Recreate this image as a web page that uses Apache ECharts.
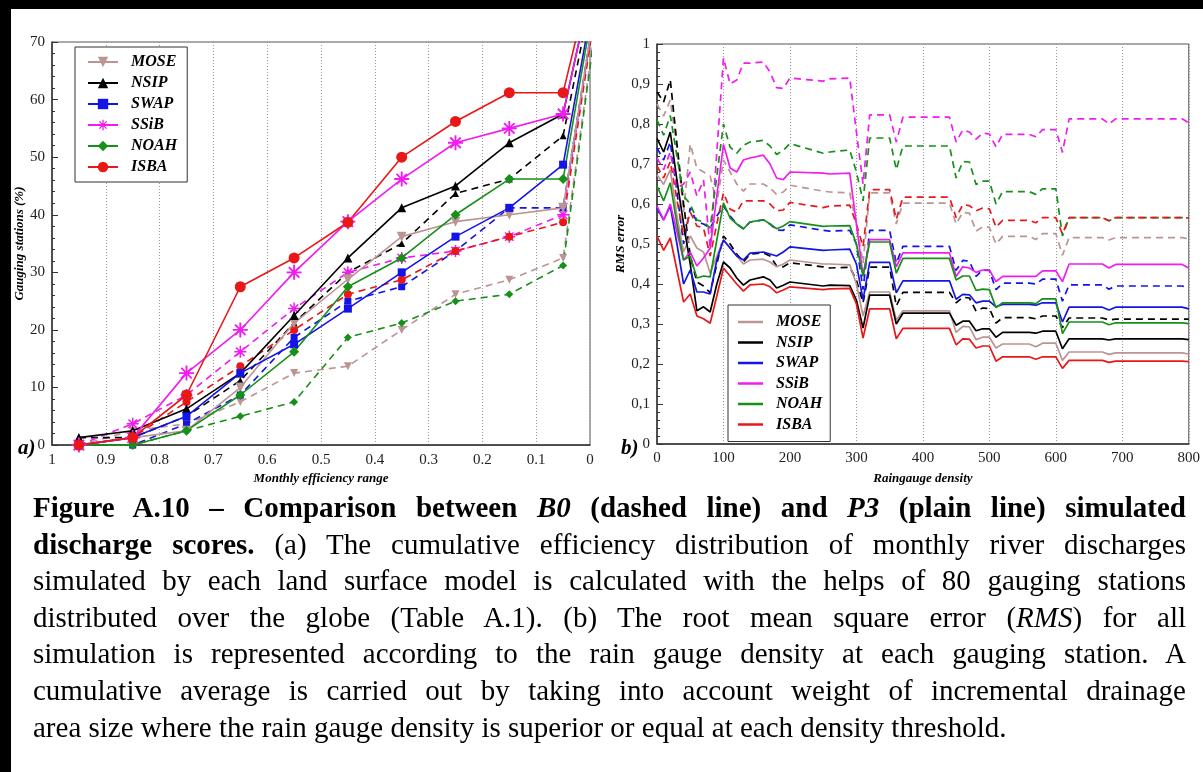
<!DOCTYPE html>
<html>
<head>
<meta charset="utf-8">
<script src="https://cdn.jsdelivr.net/npm/echarts@6/dist/echarts.min.js"></script>
<style>
  html, body { margin: 0; padding: 0; background: #fff; }
  body { width: 1203px; height: 772px; position: relative; overflow: hidden; }
  .frame { position: absolute; left: 0; top: 0; width: 1203px; height: 772px; box-sizing: border-box;
           border-top: 9px solid #000; border-left: 11px solid #000; pointer-events: none; }
  #chart { position: absolute; left: 0; top: 0; width: 1203px; height: 490px; }
  .caption { position: absolute; left: 33px; top: 489px; width: 1153px;
             font-family: 'Liberation Serif', 'Times New Roman', serif; font-size: 29px;
             line-height: 36.6px; color: #000; }
  .caption div { text-align: justify; text-align-last: justify; }
  .caption div.last { text-align: left; text-align-last: left; }
</style>
</head>
<body>
<div id="chart"></div>
<div class="caption">
  <div><b>Figure A.10 – Comparison between <i>B0</i> (dashed line) and <i>P3</i> (plain line) simulated</b></div>
  <div><b>discharge scores.</b> (a) The cumulative efficiency distribution of monthly river discharges</div>
  <div>simulated by each land surface model is calculated with the helps of 80 gauging stations</div>
  <div>distributed over the globe (Table A.1). (b) The root mean square error (<i>RMS</i>) for all</div>
  <div>simulation is represented according to the rain gauge density at each gauging station. A</div>
  <div>cumulative average is carried out by taking into account weight of incremental drainage</div>
  <div class="last">area size where the rain gauge density is superior or equal at each density threshold.</div>
</div>
<div class="frame"></div>

<script>
// (a) cumulative distribution, % of gauging stations per efficiency class
const effX = [0.95, 0.85, 0.75, 0.65, 0.55, 0.45, 0.35, 0.25, 0.15, 0.05, -0.05]

const moseP3 = [0, 1.3, 2.5, 10, 21.2, 28.8, 36.2, 38.8, 40, 41.2, 100]
const nsipP3 = [1.3, 2.5, 6.3, 12.5, 22.5, 32.5, 41.2, 45, 52.5, 57.5, 100]
const swapP3 = [0, 1.3, 5, 12.5, 17.5, 23.7, 30, 36.2, 41.2, 48.7, 100]
const ssibP3 = [0, 1.3, 12.5, 20, 30, 38.8, 46.2, 52.5, 55, 57.5, 100]
const noahP3 = [0, 0, 2.5, 8.7, 16.2, 27.5, 32.5, 40, 46.2, 46.2, 100]
const isbaP3 = [0, 1.3, 8.7, 27.5, 32.5, 38.7, 50, 56.2, 61.2, 61.2, 100]

const moseB0 = [0, 2.5, 3.7, 7.5, 12.5, 13.7, 20, 26.2, 28.7, 32.5, 100]
const nsipB0 = [1.3, 1.3, 5, 11.2, 21.2, 30, 35, 43.7, 46.2, 53.7, 100]
const swapB0 = [0, 0, 3.7, 8.7, 18.7, 25, 27.5, 33.7, 41.2, 41.2, 100]
const ssibB0 = [0, 3.7, 8.7, 16.2, 23.7, 30, 32.5, 33.7, 36.2, 40, 100]
const noahB0 = [0, 0, 2.5, 5, 7.5, 18.7, 21.2, 25, 26.2, 31.2, 100]
const isbaB0 = [0, 1.3, 7.5, 13.7, 20, 26.2, 28.7, 33.7, 36.2, 38.7, 100]

// (b) RMS error against rain gauge density
const density = [0, 10, 20, 30, 40, 50, 60, 70, 80, 90, 100, 110, 120, 130, 140,
  160, 170, 180, 190, 200,
  250, 260, 290, 300, 310, 320, 350, 360, 370,
  440, 450, 460, 470, 480, 490, 500, 510, 520,
  560, 570, 580, 600, 610, 620,
  670, 680, 690, 790, 800]

const rmsMoseB0 = [.85, .82, .86, .74, .58, .75, .69, .68, .67, .60, .71, .68, .65, .632, .65,
  .65, .64, .624, .63, .647,
  .632, .63, .628, .55, .452, .628, .628, .55, .602,
  .602, .55, .579, .577, .532, .543, .542, .50, .519,
  .519, .511, .526, .526, .472, .516,
  .516, .51, .516, .516, .513]
const rmsNsipB0 = [.88, .855, .91, .75, .60, .47, .405, .395, .378, .45, .52, .50, .475, .455, .475,
  .478, .47, .445, .443, .453,
  .443, .44, .442, .41, .353, .442, .442, .345, .379,
  .379, .353, .367, .365, .332, .34, .339, .302, .316,
  .316, .313, .32, .32, .291, .315,
  .315, .31, .312, .312, .312]
const rmsSwapB0 = [.74, .71, .755, .63, .50, .59, .555, .55, .54, .57, .595, .57, .55, .538, .555,
  .56, .55, .535, .534, .548,
  .534, .532, .534, .50, .386, .534, .534, .452, .494,
  .494, .434, .459, .457, .419, .435, .434, .386, .402,
  .402, .40, .412, .412, .357, .398,
  .398, .387, .395, .395, .392]
const rmsSsibB0 = [.715, .686, .73, .64, .65, .68, .62, .66, .49, .73, .965, .90, .91, .952, .952,
  .955, .93, .891, .889, .915,
  .907, .913, .915, .78, .65, .823, .823, .755, .817,
  .817, .755, .785, .78, .762, .777, .775, .743, .774,
  .774, .768, .786, .786, .729, .813,
  .813, .80, .813, .813, .803]
const rmsNoahB0 = [.81, .772, .821, .72, .62, .60, .56, .555, .54, .67, .80, .742, .727, .747, .755,
  .759, .745, .724, .734, .751,
  .727, .73, .735, .68, .608, .765, .765, .686, .745,
  .745, .665, .706, .705, .649, .657, .657, .60, .631,
  .631, .624, .638, .638, .52, .566,
  .566, .558, .566, .566, .565]
const rmsIsbaB0 = [.695, .665, .706, .61, .52, .58, .545, .54, .47, .55, .628, .587, .58, .608, .608,
  .608, .60, .583, .585, .604,
  .591, .595, .597, .55, .493, .636, .636, .562, .617,
  .617, .566, .598, .596, .583, .59, .588, .542, .559,
  .559, .553, .566, .566, .525, .566,
  .566, .558, .566, .566, .565]

const rmsMoseP3 = [.673, .649, .686, .57, .48, .52, .49, .48, .427, .47, .51, .49, .47, .45, .46,
  .462, .455, .443, .45, .46,
  .45, .45, .448, .40, .32, .38, .38, .31, .333,
  .333, .279, .294, .293, .261, .267, .267, .24, .25,
  .25, .243, .252, .252, .209, .23,
  .23, .224, .228, .228, .225]
const rmsNsipP3 = [.764, .73, .78, .66, .55, .45, .333, .343, .33, .40, .455, .44, .415, .397, .41,
  .418, .41, .39, .397, .405,
  .395, .397, .396, .36, .29, .372, .372, .30, .327,
  .327, .297, .307, .307, .283, .288, .288, .267, .279,
  .279, .277, .282, .282, .238, .263,
  .263, .26, .263, .263, .261]
const rmsSwapP3 = [.59, .56, .595, .50, .40, .435, .38, .38, .375, .46, .51, .49, .47, .46, .477,
  .48, .475, .47, .48, .493,
  .484, .485, .487, .45, .361, .454, .454, .378, .408,
  .408, .362, .374, .373, .353, .357, .357, .343, .349,
  .349, .347, .353, .353, .305, .342,
  .342, .335, .342, .342, .338]
const rmsSsibP3 = [.595, .56, .60, .53, .46, .48, .445, .465, .49, .62, .749, .69, .68, .71, .715,
  .722, .70, .665, .661, .68,
  .677, .675, .677, .55, .42, .511, .511, .443, .478,
  .478, .419, .443, .44, .429, .435, .435, .406, .419,
  .419, .419, .433, .433, .406, .45,
  .45, .44, .449, .449, .44]
const rmsNoahP3 = [.645, .608, .653, .55, .46, .47, .415, .42, .418, .51, .603, .565, .55, .538, .555,
  .561, .55, .538, .545, .556,
  .544, .545, .546, .50, .419, .505, .505, .427, .464,
  .464, .41, .42, .42, .384, .387, .386, .341, .353,
  .353, .351, .363, .363, .276, .305,
  .305, .298, .303, .303, .301]
const rmsIsbaP3 = [.52, .484, .515, .435, .355, .375, .32, .313, .302, .37, .44, .42, .40, .382, .398,
  .40, .393, .378, .385, .393,
  .386, .388, .389, .35, .265, .338, .338, .263, .289,
  .289, .248, .263, .262, .24, .245, .245, .207, .218,
  .218, .212, .218, .218, .189, .209,
  .209, .204, .207, .207, .206]

const models = ['MOSE', 'NSIP', 'SWAP', 'SSiB', 'NOAH', 'ISBA']
const colors = ['#bc9494', '#000000', '#1414e6', '#f01cf0', '#16901a', '#e81818']

const asterisk = 'path://M8.75 0L11.25 0L11.25 20L8.75 20Z M0 8.75L20 8.75L20 11.25L0 11.25Z ' +
  'M2.12 3.88L3.88 2.12L17.88 16.12L16.12 17.88Z M3.88 17.88L2.12 16.12L16.12 2.12L17.88 3.88Z'
const symbols = ['triangle', 'triangle', 'rect', asterisk, 'diamond', 'circle']
const symbolSizes = [[10, 9, 8, 15, 10, 11], [8, 7, 7, 12, 8, 8]]

const serif = "'Liberation Serif', 'Times New Roman', serif"

const effP3 = [moseP3, nsipP3, swapP3, ssibP3, noahP3, isbaP3]
const effB0 = [moseB0, nsipB0, swapB0, ssibB0, noahB0, isbaB0]
const rmsP3 = [rmsMoseP3, rmsNsipP3, rmsSwapP3, rmsSsibP3, rmsNoahP3, rmsIsbaP3]
const rmsB0 = [rmsMoseB0, rmsNsipB0, rmsSwapB0, rmsSsibB0, rmsNoahB0, rmsIsbaB0]

let series = []
// a) dashed B0 first, plain P3 on top
models.forEach((m, i) => {
  series.push({
    name: m + ' (B0)', type: 'line', xAxisIndex: 0, yAxisIndex: 0,
    data: effX.map((x, k) => [x, effB0[i][k]]),
    symbol: symbols[i], symbolSize: symbolSizes[1][i], symbolRotate: i === 0 ? 180 : 0,
    lineStyle: { color: colors[i], width: 1.6, type: [7, 5] },
    itemStyle: { color: colors[i] }, z: 2
  })
})
models.forEach((m, i) => {
  series.push({
    name: m, type: 'line', xAxisIndex: 0, yAxisIndex: 0,
    data: effX.map((x, k) => [x, effP3[i][k]]),
    symbol: symbols[i], symbolSize: symbolSizes[0][i], symbolRotate: i === 0 ? 180 : 0,
    lineStyle: { color: colors[i], width: 1.6 },
    itemStyle: { color: colors[i] }, z: 3
  })
})
// b)
models.forEach((m, i) => {
  series.push({
    name: 'RMS ' + m + ' (B0)', type: 'line', xAxisIndex: 1, yAxisIndex: 1,
    data: density.map((x, k) => [x, rmsB0[i][k]]),
    symbol: 'none', lineStyle: { color: colors[i], width: 1.7, type: [7, 5] }, z: 2
  })
})
models.forEach((m, i) => {
  series.push({
    name: 'RMS ' + m, type: 'line', xAxisIndex: 1, yAxisIndex: 1,
    data: density.map((x, k) => [x, rmsP3[i][k]]),
    symbol: 'none', lineStyle: { color: colors[i], width: 1.7 },
    itemStyle: { color: colors[i] }, z: 3
  })
})

const axisLabel = { color: '#222', fontFamily: serif, fontSize: 15, margin: 7 }
const nameStyle = { color: '#000', fontFamily: serif, fontSize: 13, fontWeight: 'bold', fontStyle: 'italic' }
const legendText = { color: '#000', fontFamily: serif, fontSize: 16, fontWeight: 'bold', fontStyle: 'italic',
                     padding: [0, 0, 0, 8] }

const option = {
  animation: false,
  grid: [
    { left: 52, top: 42, width: 538, height: 408, show: true, borderColor: '#555', borderWidth: 1 },
    { left: 657, top: 44, width: 539, height: 406, show: true, borderColor: '#555', borderWidth: 1 }
  ],
  xAxis: [
    {
      gridIndex: 0, type: 'value', min: 0, max: 1, interval: 0.1, inverse: true,
      name: 'Monthly efficiency range', nameLocation: 'middle', nameGap: 18, nameTextStyle: nameStyle,
      axisLine: { onZero: false, lineStyle: { color: '#333', width: 1.5 } },
      axisTick: { show: false },
      axisLabel: axisLabel,
      splitLine: { show: true, lineStyle: { color: '#999', type: [1, 2] } }
    },
    {
      gridIndex: 1, type: 'value', min: 0, max: 800, interval: 100,
      name: 'Raingauge density', nameLocation: 'middle', nameGap: 28, nameTextStyle: nameStyle,
      axisLine: { onZero: false, lineStyle: { color: '#333', width: 1.5 } },
      axisTick: { show: false },
      axisLabel: axisLabel,
      splitLine: { show: true, lineStyle: { color: '#999', type: [1, 2] } }
    }
  ],
  yAxis: [
    {
      gridIndex: 0, type: 'value', min: 0, max: 70, interval: 10,
      name: 'Gauging stations (%)', nameLocation: 'middle', nameGap: 23, nameTextStyle: nameStyle,
      axisLine: { show: true, onZero: false, lineStyle: { color: '#333', width: 1.5 } },
      axisTick: { show: true, inside: true, length: 6, lineStyle: { color: '#333' } },
      minorTick: { show: true, splitNumber: 5, length: 3, lineStyle: { color: '#333' } },
      axisLabel: axisLabel,
      splitLine: { show: false }
    },
    {
      gridIndex: 1, type: 'value', min: 0, max: 1, interval: 0.1,
      name: 'RMS error', nameLocation: 'middle', nameGap: 22, nameTextStyle: nameStyle,
      axisLine: { show: true, onZero: false, lineStyle: { color: '#333', width: 1.5 } },
      axisTick: { show: true, inside: true, length: 6, lineStyle: { color: '#333' } },
      minorTick: { show: true, splitNumber: 5, length: 3, lineStyle: { color: '#333' } },
      axisLabel: Object.assign({}, axisLabel, { formatter: v => String(v).replace('.', ',') }),
      splitLine: { show: false }
    }
  ],
  legend: [
    {
      data: models, left: 75, top: 47, orient: 'vertical',
      itemWidth: 30, itemHeight: 13, itemGap: 5,
      padding: [7, 10, 7, 12], backgroundColor: '#fff', borderColor: '#333', borderWidth: 1,
      textStyle: legendText, selectedMode: false
    },
    {
      data: models.map(m => ({ name: 'RMS ' + m, icon: 'rect' })), left: 728, top: 305, orient: 'vertical',
      itemWidth: 25, itemHeight: 2.5, itemGap: 4.5,
      padding: [9, 8, 9, 10], backgroundColor: '#fff', borderColor: '#333', borderWidth: 1,
      textStyle: legendText, selectedMode: false,
      formatter: name => name.replace('RMS ', '')
    }
  ],
  graphic: [
    { type: 'text', left: 18, top: 438, style: { text: 'a)', font: "italic bold 21px 'Liberation Serif', serif", fill: '#000' } },
    { type: 'text', left: 621, top: 438, style: { text: 'b)', font: "italic bold 21px 'Liberation Serif', serif", fill: '#000' } }
  ],
  series: series
}

const chart = echarts.init(document.getElementById('chart'))
chart.setOption(option)
</script>
</body>
</html>
